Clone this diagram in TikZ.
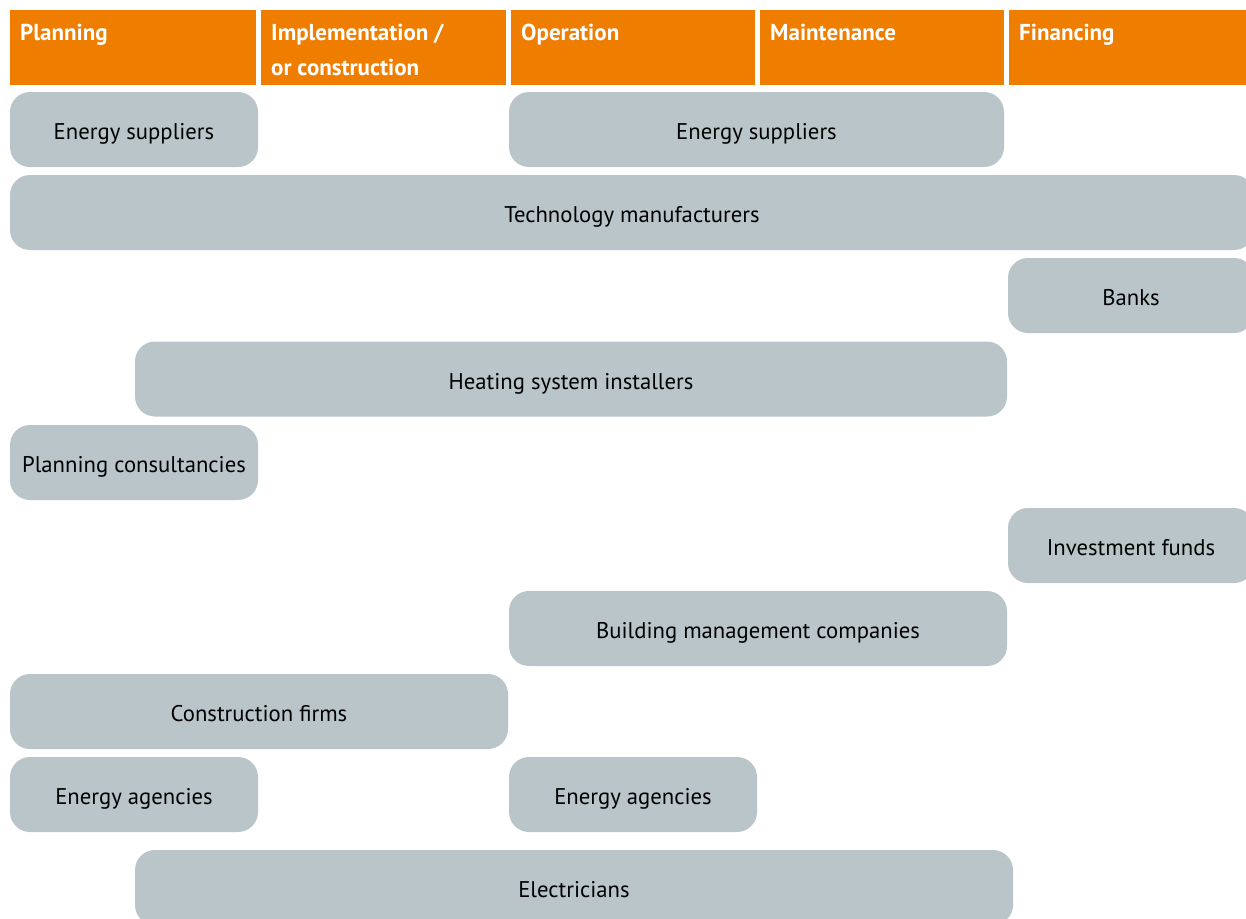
\documentclass[tikz,border=0pt]{standalone}
\usepackage{fontspec}
\setmainfont{PT Sans}
\usetikzlibrary{positioning}
\definecolor{phaseOrange}{RGB}{239,125,0}
\definecolor{actorGrey}{RGB}{185,197,201}
\tikzset{
    phase/.style={rectangle, fill=phaseOrange, inner sep=0pt, minimum height=75pt, anchor=north west},
    phaseText/.style={anchor=north west, inner sep=0pt, text=white, align=left, font=\bfseries\fontsize{23}{35}\selectfont},
    actor/.style={rectangle, rounded corners=20pt, fill=actorGrey, inner sep=0pt, minimum height=75pt, text height=20pt, text depth=0pt, font=\fontsize{22.7}{26}\selectfont},
}
\newcommand{\drawPhase}[4]{
    \node[phase, minimum width=#3pt] (#1) at (#2, 10) {};
    \node[phaseText] (#1Text) at ([xshift=10pt, yshift=-13.5pt]#1.north west) {#4};
}
\newcommand{\drawActor}[4]{
    \node[actor, minimum width=#3pt] (#1) at (#2) {#4};
}

\begin{document}
\begin{tikzpicture}[x=1pt, y=-1pt]
    \useasboundingbox (0, 0) rectangle (1246, 918);

    \drawPhase{planning}{10}{246}{Planning}
    \drawPhase{implementation}{261}{245}{Implementation /\\or construction}
    \drawPhase{operation}{511}{244}{Operation}
    \drawPhase{maintenance}{760}{244}{Maintenance}
    \drawPhase{financing}{1009}{240}{Financing}

    \drawActor{suppliersA}{134, 129.5}{248}{Energy suppliers}
    \drawActor{suppliersB}{756.5, 129.5}{495}{Energy suppliers}
    \drawActor{manufacturers}{632, 212.5}{1244}{Technology manufacturers}
    \drawActor{banks}{1131, 295.5}{246}{Banks}
    \drawActor{installers}{571, 379}{872}{Heating system installers}
    \drawActor{consultancies}{134, 462.5}{248}{Planning consultancies}
    \drawActor{funds}{1131, 545.5}{246}{Investment funds}
    \drawActor{management}{758, 628.5}{498}{Building management companies}
    \drawActor{construction}{259, 711.5}{498}{Construction firms}
    \drawActor{agenciesA}{134, 794.5}{248}{Energy agencies}
    \drawActor{agenciesB}{633, 794.5}{248}{Energy agencies}
    \drawActor{electricians}{574, 887.5}{878}{Electricians}

\end{tikzpicture}
\end{document}
